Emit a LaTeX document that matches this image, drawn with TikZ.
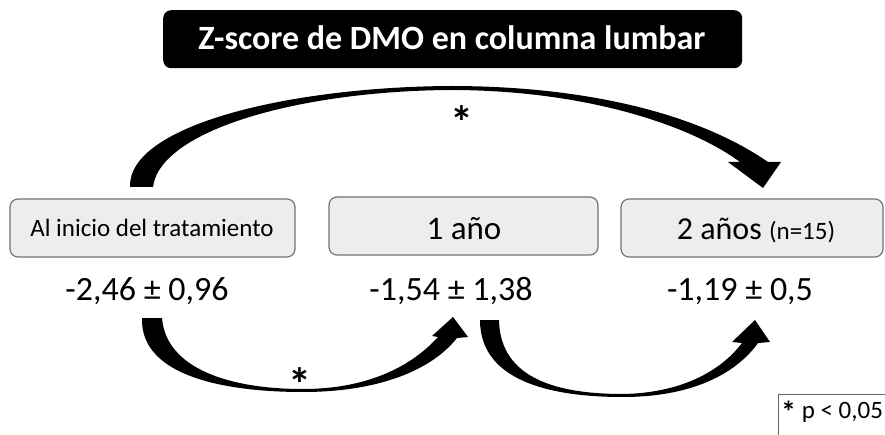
\documentclass[tikz,border=0pt]{standalone}
\usepackage{fontspec}
\setmainfont{Carlito}
\begin{document}
\begin{tikzpicture}[x=1pt,y=-1pt,
  stagebox/.style={draw=black!55,line width=1.2pt,fill=black!7,rounded corners=8pt},
  valtext/.style={anchor=base,font=\fontsize{34}{36}\selectfont},
  star/.style={anchor=base,font=\fontsize{46}{48}\selectfont\bfseries},
  bigarrow/.style={fill=black,draw=none}]
\useasboundingbox (0,0) rectangle (885,435);
% title
\node[fill=black,rounded corners=8pt,minimum width=579pt,minimum height=58pt,anchor=north west,inner sep=0pt] (title) at (163,10) {};
\node[anchor=base,text=white,font=\fontsize{34}{36}\selectfont\bfseries] (titletext) at (452,50) {Z-score de DMO en columna lumbar};
% stage boxes
\draw[stagebox] (10,199) rectangle (295,257);
\draw[stagebox] (329,197) rectangle (598,255);
\draw[stagebox] (621,199) rectangle (883,257);
\node[anchor=base,font=\fontsize{25}{27}\selectfont] (t1) at (152,237) {Al inicio del tratamiento};
\node[anchor=base,font=\fontsize{33}{35}\selectfont] (t2) at (464,240) {1 año};
\node[anchor=base,font=\fontsize{32}{34}\selectfont] (t3) at (756,240) {2 años {\fontsize{25}{27}\selectfont(n=15)}};
% values
\node[valtext] (v1) at (147,301) {-2,46 ± 0,96};
\node[valtext] (v2) at (451,301) {-1,54 ± 1,38};
\node[valtext] (v3) at (740,300) {-1,19 ± 0,5};
% top arrow
\fill[bigarrow] (130,187) .. controls (128,125) and (290,87) .. (450,86)
  .. controls (590,86) and (700,115) .. (768,162)
  -- (781,162) -- (763,188) -- (728,162) -- (740,162)
  .. controls (690,125) and (585,90) .. (450,90)
  .. controls (300,91) and (160,130) .. (153,187) -- cycle;
\node[star] (s1) at (462,139) {*};
% bottom arrow 1
\fill[bigarrow] (142,318) .. controls (140,378) and (230,392) .. (303,392)
  .. controls (375,392) and (430,372) .. (457,338)
  -- (468,337) -- (453,317) -- (432,336) -- (438,337)
  .. controls (410,368) and (365,389) .. (303,389)
  .. controls (228,389) and (166,368) .. (162,318) -- cycle;
\node[star] (s2) at (300,400) {*};
% bottom arrow 2
\fill[bigarrow] (480,320) .. controls (480,385) and (560,397) .. (623,397)
  .. controls (690,397) and (735,375) .. (758,343)
  -- (770,342) -- (755,320) -- (732,342) -- (742,343)
  .. controls (720,372) and (680,393) .. (623,394)
  .. controls (560,394) and (500,380) .. (499,320) -- cycle;
% legend
\draw[black!60,line width=1pt] (778,435) -- (778,394) -- (885,394);
\node[anchor=base west,font=\fontsize{25}{27}\selectfont,inner sep=0pt] (legend) at (781,418) {\raisebox{-4pt}{\fontsize{30}{30}\selectfont\bfseries *} p < 0,05};
\end{tikzpicture}
\end{document}
